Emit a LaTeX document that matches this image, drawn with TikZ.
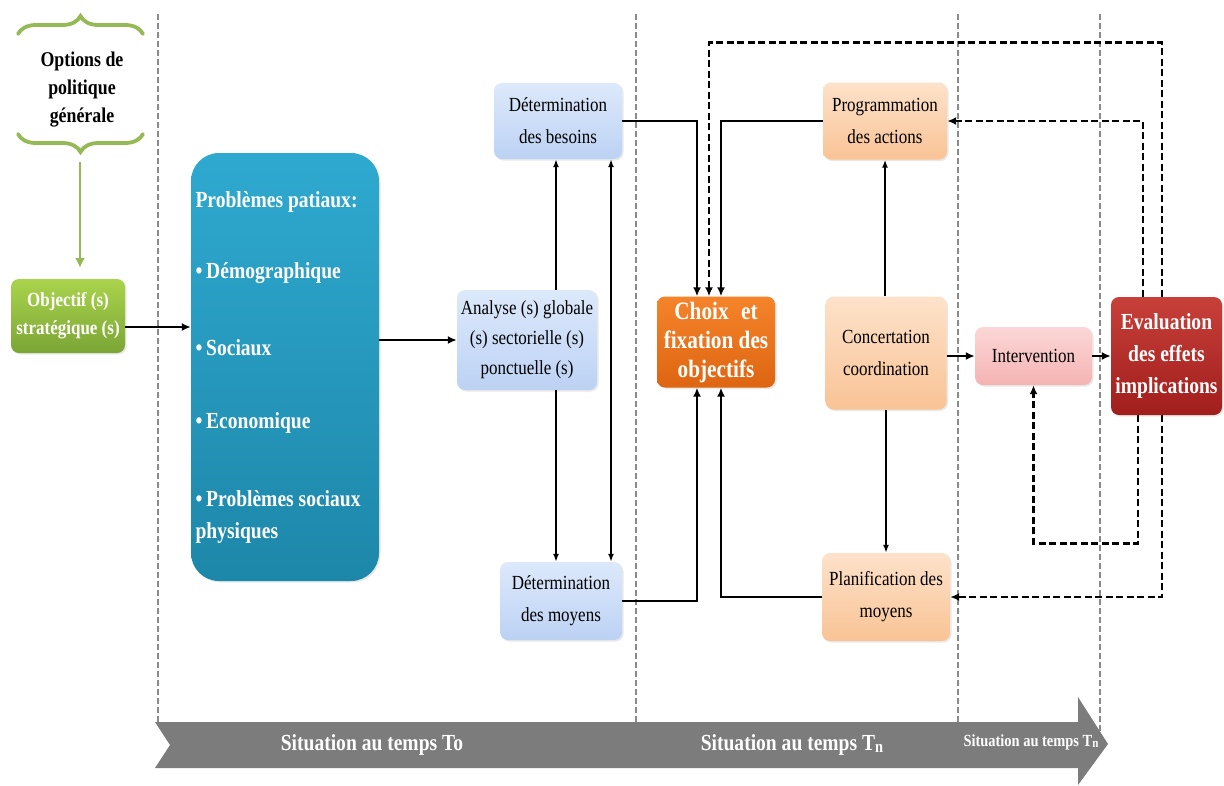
\documentclass[tikz,border=0pt]{standalone}
\usepackage{fontspec}
\setmainfont{Liberation Serif}[FakeStretch=0.85]
\usetikzlibrary{arrows.meta,shadows,decorations.pathreplacing,calc}

\definecolor{brgreen}{HTML}{95B955}
\definecolor{objtop}{HTML}{AAD44C}
\definecolor{objbot}{HTML}{7BA535}
\definecolor{bigtop}{HTML}{2FA9D0}
\definecolor{bigbot}{HTML}{1D87A9}
\definecolor{bluetop}{HTML}{DDE9FB}
\definecolor{bluebot}{HTML}{BCD2F4}
\definecolor{peachtop}{HTML}{FDE2CA}
\definecolor{peachbot}{HTML}{F9C395}
\definecolor{orgtop}{HTML}{F5842A}
\definecolor{orgbot}{HTML}{DE6512}
\definecolor{pinktop}{HTML}{FCD7D7}
\definecolor{pinkbot}{HTML}{F4B3B3}
\definecolor{redtop}{HTML}{C8403A}
\definecolor{redbot}{HTML}{A01E1C}
\definecolor{bandgrey}{HTML}{7C7C7C}
\definecolor{sepgrey}{HTML}{8A8A8A}

\tikzset{
  box/.style={rounded corners=8pt, align=center, inner sep=2pt,
    drop shadow={opacity=0.18, shadow xshift=1.5pt, shadow yshift=-1.5pt}},
  lightbox/.style={box, font=\fontsize{20}{32}\selectfont, text=black},
  darkbox/.style={box, font=\bfseries\fontsize{24}{30}\selectfont, text=white},
  bluebox/.style={lightbox, top color=bluetop, bottom color=bluebot},
  peachbox/.style={lightbox, top color=peachtop, bottom color=peachbot},
  sep/.style={sepgrey, line width=1.2pt, dash pattern=on 6pt off 3pt},
  link/.style={line width=2.8pt, -{Latex[length=9pt,width=8pt]}},
  thinlink/.style={line width=1.7pt, -{Latex[length=8pt,width=6pt]}},
  dashlink/.style={line width=2.8pt, dash pattern=on 7pt off 3.5pt,
    -{Latex[length=9pt,width=8pt]}},
}

\begin{document}
\begin{tikzpicture}[x=1pt,y=-1pt]
\useasboundingbox (0,0) rectangle (1224,785);

% period separators
\foreach \sx/\ey in {158/722, 636/722, 958/722, 1100/735}
  \draw[sep] (\sx,14) -- (\sx,\ey);

% general policy options between two braces
\node[font=\bfseries\fontsize{21}{28}\selectfont, align=center] (opt) at (82,90)
  {Options de\\politique\\générale};
\draw[brgreen, line width=3.8pt, line cap=round, decorate,
  decoration={brace, amplitude=18pt}] (18,34) -- (143,34);
\draw[brgreen, line width=3.8pt, line cap=round, decorate,
  decoration={brace, amplitude=18pt}] (143,134) -- (18,134);
\coordinate (gtop) at (80,162);
\coordinate (gtip) at (80,268);
\draw[brgreen, line width=2.8pt, -{Latex[length=10pt,width=10pt]}] (gtop) -- (gtip);

% nodes
\node[darkbox, font=\bfseries\fontsize{20}{28}\selectfont, top color=objtop,
  bottom color=objbot, minimum width=114pt, minimum height=74pt] (obj) at (68,316)
  {Objectif (s)\\stratégique (s)};

\node[box, rounded corners=28pt, top color=bigtop, bottom color=bigbot,
  minimum width=188pt, minimum height=428pt] (big) at (285,367) {};
\begin{scope}[font=\bfseries\fontsize{23}{27}\selectfont, text=white]
  \node[anchor=west] (p0) at (192,202) {Problèmes patiaux:};
  \node[anchor=west] (p1) at (192,273) {\textbullet\,Démographique};
  \node[anchor=west] (p2) at (192,348) {\textbullet\,Sociaux};
  \node[anchor=west] (p3) at (192,423) {\textbullet\,Economique};
  \node[anchor=west] (p4) at (192,499) {\textbullet\,Problèmes sociaux};
  \node[anchor=west] (p5) at (192,533) {physiques};
\end{scope}

\node[bluebox, font=\fontsize{20}{30}\selectfont,
  minimum width=140pt, minimum height=100pt] (analyse) at (527,340)
  {Analyse (s) globale\\(s) sectorielle (s)\\ponctuelle (s)};
\node[bluebox, minimum width=128pt, minimum height=76pt] (besoins) at (558,121)
  {Détermination\\des besoins};
\node[bluebox, minimum width=122pt, minimum height=78pt] (moyens) at (561,601)
  {Détermination\\des moyens};

\node[darkbox, font=\bfseries\fontsize{25}{29}\selectfont, top color=orgtop,
  bottom color=orgbot, minimum width=118pt, minimum height=91pt] (choix) at (716,342)
  {Choix\enspace et\\fixation des\\objectifs};

\node[peachbox, minimum width=124pt, minimum height=77pt] (prog) at (885,121)
  {Programmation\\des actions};
\node[peachbox, minimum width=121pt, minimum height=113pt] (conc) at (886,353)
  {Concertation\\coordination};
\node[peachbox, minimum width=128pt, minimum height=88pt] (plan) at (886,597)
  {Planification des\\moyens};

\node[lightbox, top color=pinktop, bottom color=pinkbot,
  minimum width=117pt, minimum height=58pt] (interv) at (1033.5,356)
  {Intervention};
\node[darkbox, font=\bfseries\fontsize{23}{32}\selectfont, top color=redtop,
  bottom color=redbot, minimum width=111pt, minimum height=118pt] (eval) at (1166.5,356)
  {Evaluation\\des effets\\implications};

% solid connectors
\draw[link] (obj.east |- 0,327) -- (big.west |- 0,327);
\draw[link] (analyse.west -| big.east) -- (analyse.west);

\coordinate (xa) at (556,0);
\coordinate (xb) at (611,0);
\draw[thinlink] (xa |- analyse.north) -- (xa |- besoins.south);
\draw[thinlink] (xa |- analyse.south) -- (xa |- moyens.north);
\draw[thinlink, {Latex[length=8pt,width=6pt]}-{Latex[length=8pt,width=6pt]}]
  (xb |- besoins.south) -- (xb |- moyens.north);

\draw[link] (besoins.east) -| ([xshift=-19pt]choix.north);
\draw[link] (prog.west) -| ([xshift=5pt]choix.north);
\draw[link] (moyens.east) -| ([xshift=-19pt]choix.south);
\draw[link] (plan.west) -| ([xshift=5pt]choix.south);

\draw[thinlink] (conc.north -| prog.south) -- (prog.south);
\draw[thinlink] (conc.south -| plan.north) -- (plan.north);

\draw[link] (conc.east |- interv.west) -- (interv.west);
\draw[link] (interv.east) -- (interv.east -| eval.west);

% feedback loops from the evaluation
\draw[dashlink] ([xshift=-4.5pt]eval.north) -- ++(0,-254) -| ([xshift=-7pt]choix.north);
\draw[dashlink] ([xshift=-23.5pt]eval.north) |- (prog.east);
\draw[dashlink] ([xshift=-28.5pt]eval.south) -- ++(0,128) -| (interv.south);
\draw[dashlink] ([xshift=-4.5pt]eval.south) |- (plan.east);

% time band
\fill[bandgrey] (155,722) -- (1078,722) -- (1078,697) -- (1108,744)
  -- (1078,785) -- (1078,768) -- (155,768) -- (170,745) -- cycle;
\begin{scope}[text=white, font=\bfseries\fontsize{23}{27}\selectfont]
  \node (t0) at (372,745) {Situation au temps To};
  \node (t1) at (792,745) {Situation au temps T\raisebox{-1.5pt}{\fontsize{17}{17}\selectfont n}};
  \node[font=\bfseries\fontsize{17}{19}\selectfont] (t2) at (1031,742)
    {Situation au temps T\raisebox{-1pt}{\fontsize{13}{13}\selectfont n}};
\end{scope}
\end{tikzpicture}
\end{document}
